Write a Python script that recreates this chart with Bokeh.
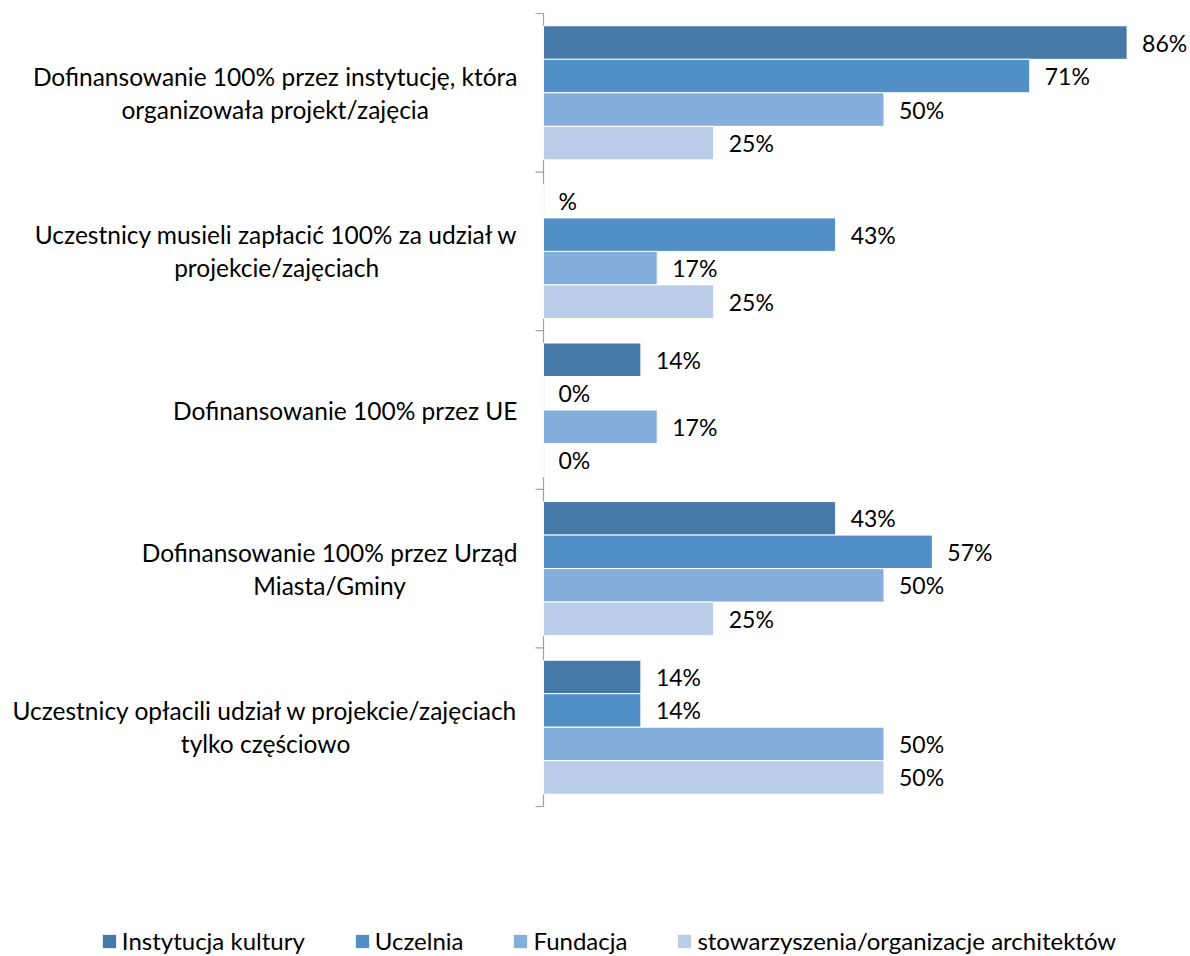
import glob
import os
import subprocess

import numpy as np
from bokeh.plotting import figure
from bokeh.models import Range1d, Label, Legend, LegendItem, ColumnDataSource
from bokeh.core.properties import value
from bokeh.embed import file_html
from bokeh.resources import INLINE

# ---------------- data ----------------
categories = [
    ["Dofinansowanie 100% przez instytucję, która", "organizowała projekt/zajęcia"],
    ["Uczestnicy musieli zapłacić 100% za udział w", "projekcie/zajęciach"],
    ["Dofinansowanie 100% przez UE"],
    ["Dofinansowanie 100% przez Urząd", "Miasta/Gminy"],
    ["Uczestnicy opłacili udział w projekcie/zajęciach", "tylko częściowo"],
]
series = ["Instytucja kultury", "Uczelnia", "Fundacja",
          "stowarzyszenia/organizacje architektów"]

instytucja = [85.7, 0.0, 14.3, 42.9, 14.3]
uczelnia = [71.4, 42.9, 0.0, 57.1, 14.3]
fundacja = [50.0, 16.7, 16.7, 50.0, 50.0]
stowarzyszenia = [25.0, 25.0, 0.0, 25.0, 50.0]

instytucja_labels = ["86%", "%", "14%", "43%", "14%"]
uczelnia_labels = ["71%", "43%", "0%", "57%", "14%"]
fundacja_labels = ["50%", "17%", "17%", "50%", "50%"]
stowarzyszenia_labels = ["25%", "25%", "0%", "25%", "50%"]

colors = ["#4678A8", "#538FC7", "#84AEDB", "#B9CDE9"]

values_all = [instytucja, uczelnia, fundacja, stowarzyszenia]
labels_all = [instytucja_labels, uczelnia_labels, fundacja_labels, stowarzyszenia_labels]

# ---------------- font measuring ----------------
FONT = "Lato"


def find_font_file():
    pats = ["Lato-Regular.ttf", "Lato-Reg.ttf", "Lato-Regular.otf"]
    roots = ["/usr/share/fonts", "/usr/local/share/fonts",
             os.path.expanduser("~/.fonts"), os.path.expanduser("~/.local/share/fonts")]
    for root in roots:
        for pat in pats:
            try:
                hits = glob.glob(os.path.join(root, "**", pat), recursive=True)
            except Exception:
                hits = []
            if hits:
                return hits[0]
    try:
        out = subprocess.run(["fc-match", "-f", "%{file}", "Lato:style=Regular"],
                             capture_output=True, text=True, timeout=10).stdout.strip()
        if out and os.path.exists(out) and "lato" in out.lower():
            return out
    except Exception:
        pass
    return None


try:
    from PIL import ImageFont
    _ff = find_font_file()
except Exception:
    _ff = None


def text_width(s, size):
    if _ff:
        try:
            f = ImageFont.truetype(_ff, size=int(round(size * 10)))
            return f.getlength(s) / 10.0
        except Exception:
            pass
    return len(s) * 0.43 * size


FS_CAT = 24.5
FS_VAL = 23
FS_LEG = 24

# ---------------- layout (canvas pixels) ----------------
W, H = 1190, 956
AXIS_X = 543          # canvas x of the value axis (0 %)
AXIS_TOP = 13         # canvas y of the top of the category axis
PX_PER_PCT = 6.81
BAND_PX = 158.6
n_cat = len(categories)

x_start = -AXIS_X / PX_PER_PCT
x_end = (W - AXIS_X) / PX_PER_PCT
y_end = n_cat + AXIS_TOP / BAND_PX
y_start = y_end - H / BAND_PX

p = figure(width=W, height=H,
           x_range=Range1d(x_start, x_end),
           y_range=Range1d(y_start, y_end),
           output_backend="svg", toolbar_location=None,
           min_border_left=0, min_border_right=0,
           min_border_top=0, min_border_bottom=0)
p.xaxis.visible = False
p.yaxis.visible = False
p.grid.visible = False
p.outline_line_color = None
p.background_fill_color = "white"
p.border_fill_color = "white"

# category axis: line + outward ticks at the category boundaries
AXIS_COLOR = "#A0A0A0"
TICK_LEN = 8 / PX_PER_PCT
bounds = np.arange(n_cat + 1, dtype=float)
p.segment(x0=[0], y0=[0], x1=[0], y1=[float(n_cat)],
          line_color=AXIS_COLOR, line_width=1.2)
p.segment(x0=np.full(n_cat + 1, -TICK_LEN), y0=bounds,
          x1=np.zeros(n_cat + 1), y1=bounds,
          line_color=AXIS_COLOR, line_width=1.2)

centers = (n_cat - 0.5) - np.arange(n_cat)
bar_h = 33.5 / BAND_PX
n_ser = len(series)

renderers = []
for j in range(n_ser):
    ys = centers + ((n_ser - 1) / 2.0 - j) * bar_h
    src = ColumnDataSource(dict(y=ys, v=values_all[j], lab=labels_all[j]))
    r = p.hbar(y="y", left=0, right="v", height=bar_h, source=src,
               fill_color=colors[j], line_color="white", line_width=1)
    renderers.append(r)
    p.text(x="v", y="y", text="lab", source=src, x_offset=15,
           text_align="left", text_baseline="middle",
           text_font=value(FONT), text_font_size=f"{FS_VAL}px", text_color="#000000")

# category labels (right-aligned block, lines centered within block)
GAP = 26
LINE = 33
for i, lines in enumerate(categories):
    if len(lines) == 1:
        p.add_layout(Label(x=0, y=centers[i], x_offset=-GAP, y_offset=0,
                           text=lines[0], text_align="right", text_baseline="middle",
                           text_font=FONT, text_font_size=f"{FS_CAT}px",
                           text_color="#000000"))
    else:
        widths = [text_width(s, FS_CAT) for s in lines]
        bw = max(widths)
        cx = -GAP - bw / 2.0
        n = len(lines)
        for k, s in enumerate(lines):
            yo = ((n - 1) / 2.0 - k) * LINE
            p.add_layout(Label(x=0, y=centers[i], x_offset=cx, y_offset=yo,
                               text=s, text_align="center", text_baseline="middle",
                               text_font=FONT, text_font_size=f"{FS_CAT}px",
                               text_color="#000000"))

# legend
GW, STANDOFF, SPACING = 18, 4, 48
leg_w = sum(GW + STANDOFF + text_width(s, FS_LEG) for s in series) + SPACING * (n_ser - 1)
LEG_CENTER = 608
lx = LEG_CENTER - leg_w / 2.0
items = [LegendItem(label=s, renderers=[r]) for s, r in zip(series, renderers)]
legend = Legend(items=items, orientation="horizontal", location=(lx, 1),
                glyph_width=GW, glyph_height=GW, label_standoff=STANDOFF,
                spacing=SPACING, padding=0, margin=0,
                border_line_color=None, background_fill_alpha=0,
                label_text_font=FONT, label_text_font_size=f"{FS_LEG}px",
                label_text_color="#000000", label_height=FS_LEG,
                label_text_baseline="middle")
p.add_layout(legend)

open("out.html", "w").write(file_html(p, INLINE))
